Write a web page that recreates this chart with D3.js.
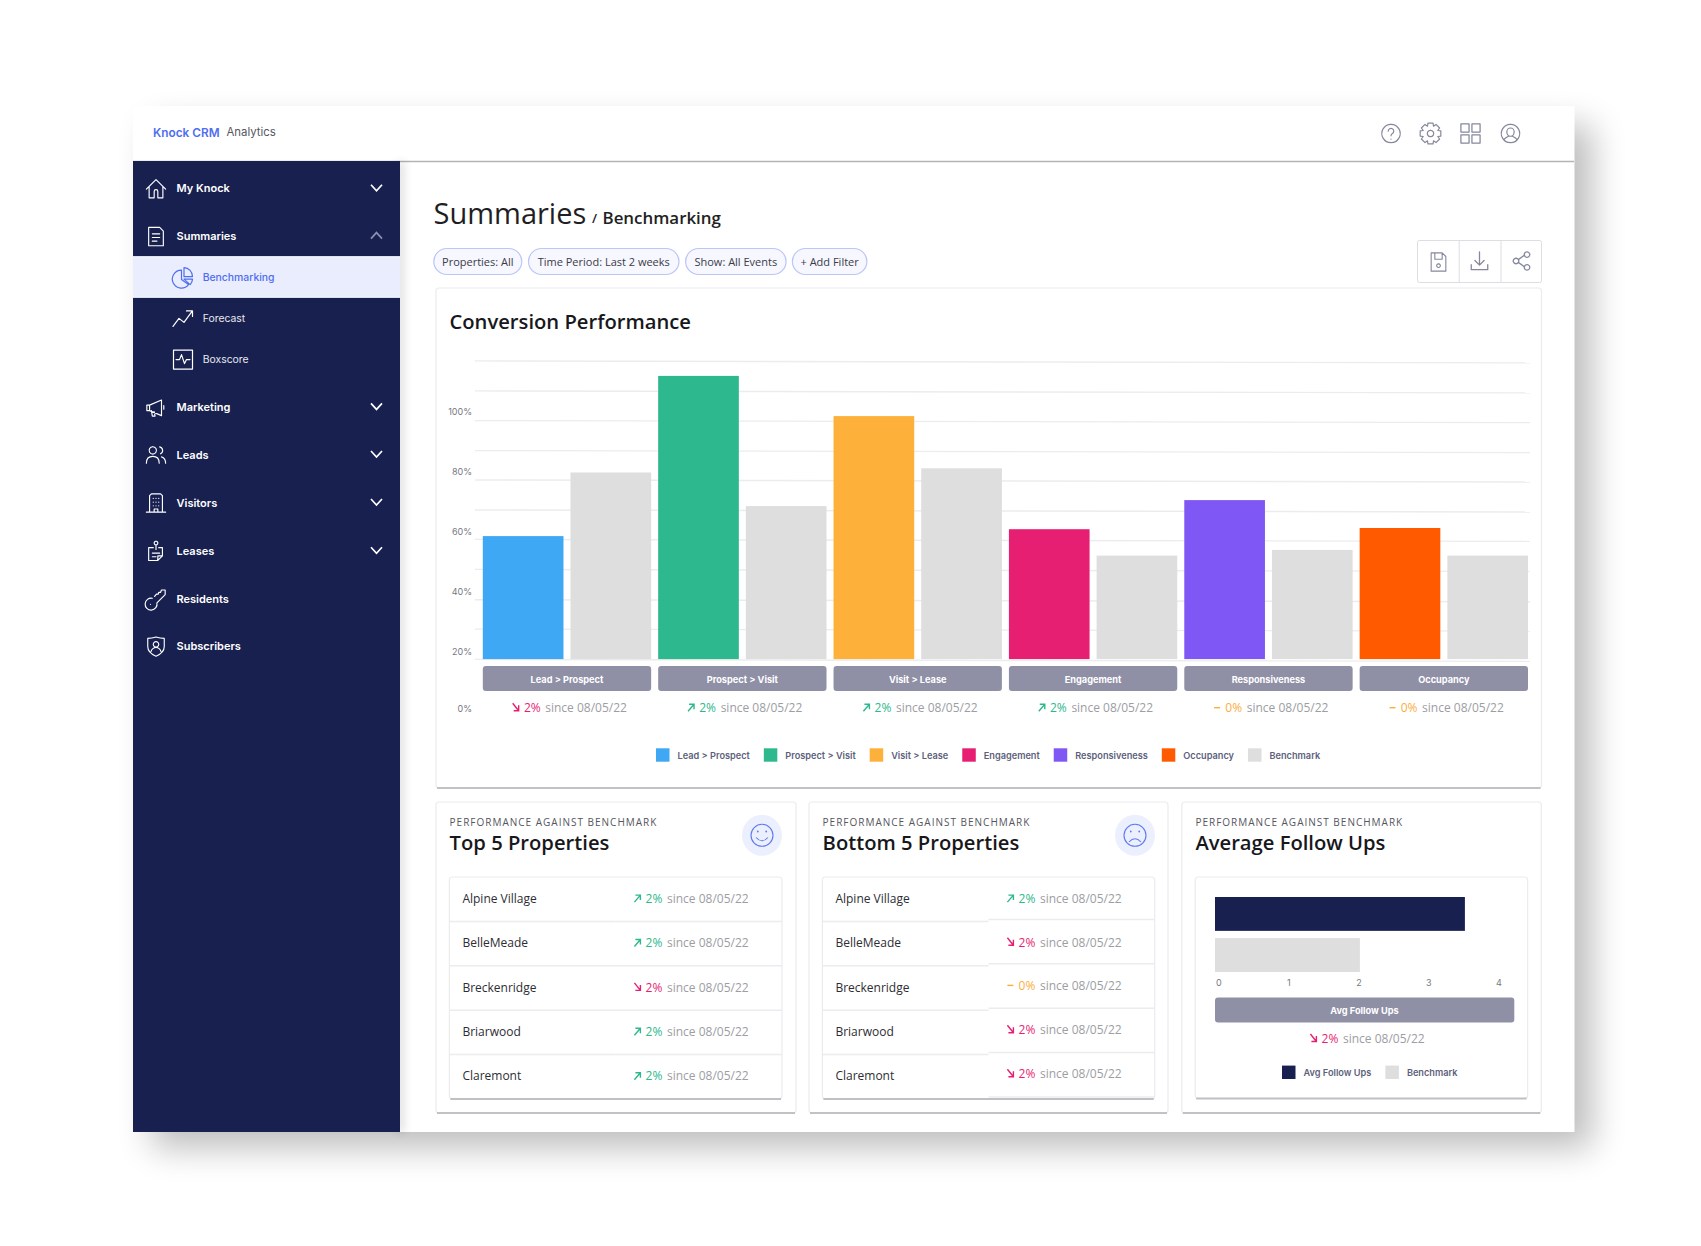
<!DOCTYPE html>
<html><head><meta charset="utf-8">
<script src="https://cdn.jsdelivr.net/npm/d3@7"></script>
<style>html,body{margin:0;padding:0;background:#fff;overflow:hidden}svg{display:block}</style>
</head><body><svg id="c" width="1701" height="1246"></svg>
<script>
// ---------- data ----------
const categories = ["Lead > Prospect","Prospect > Visit","Visit > Lease","Engagement","Responsiveness","Occupancy"];
const seriesValues = [58.3,111.7,98.3,60.6,70.3,61];
const benchmarkValues = [79.5,68.3,80.9,51.8,53.7,51.8];
const seriesColours = ["#3fa8f4","#2db88d","#fdb03a","#e61f72","#7f57f5","#ff5a00"];
const deltaValues = [-2,2,2,2,0,0];
const yTicks = [0,20,40,60,80,100];
const gridValues = [17.2,27.3,37.1,47.2,57.2,67,77,86.8,96.8,106.7,116.7];
const propertyNames = ["Alpine Village","BelleMeade","Breckenridge","Briarwood","Claremont"];
const topDeltas = [2,2,-2,2,2];
const bottomDeltas = [2,-2,0,-2,-2];
const followLabels = ["Avg Follow Ups","Benchmark"];
const followValues = [3.57,2.07];
const followTicks = [0,1,2,3,4];
const followDelta = -2;
const sinceLabel = "since 08/05/22";
const navItems = ["My Knock","Summaries","Marketing","Leads","Visitors","Leases","Residents","Subscribers"];
const subNavItems = ["Benchmarking","Forecast","Boxscore"];
const filterLabels = ["Properties: All","Time Period: Last 2 weeks","Show: All Events","+ Add Filter"];

// ---------- helpers ----------
const INK="#1b1b1f", NAVY="#182050", GREY="#dedede", BTN="#8f90a6", BLUE="#4f6ef0", UP="#2db88d", DOWN="#e61f72", FLAT="#fbae3c";
const INTER="Inter, sans-serif", OPEN="'Open Sans', sans-serif";
const svg=d3.select("#c");
const defs=svg.append("defs");
const sh=defs.append("filter").attr("id","win").attr("x","-20%").attr("y","-20%").attr("width","140%").attr("height","140%");
sh.append("feGaussianBlur").attr("stdDeviation",17);
const sh2=defs.append("filter").attr("id","soft").attr("x","-300%").attr("y","-10%").attr("width","700%").attr("height","120%");
sh2.append("feGaussianBlur").attr("stdDeviation",4);

function T(p,x,y,s,o={}){
  return p.append("text").attr("x",x).attr("y",y).attr("dy","0.35em").text(s)
    .attr("font-family",o.f||OPEN).attr("font-size",o.s||12).attr("font-weight",o.w||400)
    .attr("fill",o.c||INK).attr("text-anchor",o.a||"start").attr("letter-spacing",o.ls||null);
}
function icon(p,cx,cy,d,o={}){
  const k=(o.size||24)/24;
  return p.append("path").attr("d",d).attr("transform",`translate(${cx-12*k},${cy-12*k}) scale(${k})`)
    .attr("fill","none").attr("stroke",o.c||"#fff").attr("stroke-width",o.w||1.5).attr("stroke-linecap","round").attr("stroke-linejoin","round");
}
function delta(p,ax,y,v){
  const col=v>0?UP:v<0?DOWN:FLAT;
  const ay=y-0.5;
  let d;
  if(v>0) d=`M${ax+1} ${ay+4}L${ax+7} ${ay-3}M${ax+2} ${ay-3}H${ax+7}V${ay+2}`;
  else if(v<0) d=`M${ax+1} ${ay-4}L${ax+7} ${ay+3.5}M${ax+7} ${ay-2}V${ay+3.5}H${ax+2}`;
  else d=`M${ax+1} ${ay+0.5}H${ax+7}`;
  p.append("path").attr("d",d).attr("fill","none").attr("stroke",col).attr("stroke-width",1.4);
  T(p,ax+12.2,y,Math.abs(v)+"%",{s:12,w:500,c:col});
  T(p,ax+33.6,y,sinceLabel,{s:12,c:"#9d9da3"});
}

// ---------- window ----------
svg.append("rect").attr("x",152).attr("y",125).attr("width",1440).attr("height",1023).attr("fill","#000").attr("opacity",.26).attr("filter","url(#win)");
svg.append("rect").attr("x",133).attr("y",106).attr("width",1441.5).attr("height",1026).attr("fill","#fff");
// header
T(svg,153,132.5,"Knock CRM",{f:INTER,s:11.8,w:600,c:BLUE});
T(svg,226.5,132.5,"Analytics",{f:INTER,s:11.4,c:"#55565e"});
svg.append("line").attr("x1",133).attr("x2",1574).attr("y1",161.5).attr("y2",161.5).attr("stroke","#b4b4b6").attr("stroke-width",1.6);
const hc="#85879c";
icon(svg,1391,133.5,"M12 2a10 10 0 1 0 .01 0M9 9.5a3 3 0 1 1 4.500 2.600c-1 .6-1.500 1.200-1.500 2.400M12 18v.2",{c:hc,size:22,w:1.3});
const gearPts=d3.range(0,8).flatMap(i=>{
  const a=i*Math.PI/4, w=Math.PI/13, g=Math.PI/8;
  return [[a-g,8.6],[a-w,11.6],[a+w,11.6],[a+g,8.6]].map(([t,r])=>[12+r*Math.cos(t),12+r*Math.sin(t)]);
});
icon(svg,1430.5,133.5,"M"+gearPts.map(p=>p.join(" ")).join("L")+"ZM12 8.500a3.500 3.500 0 1 0 .01 0",{c:hc,size:22,w:1.3});
icon(svg,1470.5,133.5,"M2 2h8.500v8.500H2zM13.500 2H22v8.500h-8.500zM2 13.500h8.500V22H2zM13.500 13.500H22V22h-8.500z",{c:hc,size:23,w:1.3});
icon(svg,1510.5,133.5,"M12 2a10 10 0 1 0 .01 0M12 6a4 4 0 0 0-4 4c0 3 2 5 4 5s4-2 4-5a4 4 0 0 0-4-4M5 18.500c2-2.500 4-3 5-3.500M19 18.500c-2-2.500-4-3-5-3.500",{c:hc,size:22,w:1.3});

// ---------- sidebar ----------
const side=svg.append("g");
side.append("rect").attr("x",397).attr("y",162).attr("width",7).attr("height",970).attr("fill","#000").attr("opacity",.14).attr("filter","url(#soft)");
side.append("rect").attr("x",133).attr("y",161).attr("width",267).attr("height",971).attr("fill",NAVY);
side.append("rect").attr("x",133).attr("y",256.7).attr("width",267).attr("height",40.6).attr("fill","#e9edfd");
side.selectAll("line.hl").data([256.7,297.3]).join("line").attr("class","hl").attr("x1",133).attr("x2",400).attr("y1",d=>d).attr("y2",d=>d).attr("stroke","#fff").attr("stroke-width",1);
const navY=[188.7,236.6,407.4,455,503,551.3,599.2,646.6];
const chevrons=[1,-1,1,1,1,1,0,0];
const navIcons=[
 "M1.500 12.500L12 2l10.500 10.500M4.500 10v12h5.500v-7a2 2 0 0 1 4 0v7h5.500V10",
 "M4 2h12l4 4v16H4zM8 9h8M8 13h8M8 17h5",
 "M2 9.500h3v6H2zM5 9.500L18 4v17L5 15.500M7 15.500l1 6h3l-1-5M20.500 10v4",
 "M8.500 3a4 4 0 1 0 .01 0M1.500 21c0-5 3-7.500 7-7.500s7 2.500 7 7.500M16 3.200a4 4 0 0 1 1 7.500M18 14c2.500.8 4.500 3 4.500 7",
 "M5 4l2-2h10l2 2v18H5zM1.500 22h21M9 7v.1M12 7v.1M15 7v.1M9 11v.1M12 11v.1M15 11v.1M9 15v.1M12 15v.1M15 15v.1M10 22v-3.500h4V22",
 "M12 1a2 2 0 1 0 .01 0M12 5V10M9 8H4v14h10l5-5V8h-4M8 14h8M8 18h4M14 22v-5h5",
 "M8 11a6.500 6.500 0 1 0 5 5L22 7V2h-4l-1 2.500h-2l-.5 2h-2L10.500 9M6 17.500v.1",
 "M3 3c3 0 6-.5 9-1.500 3 1 6 1.500 9 1.500v9c0 5-4 8.500-9 10.500-5-2-9-5.500-9-10.500zM12 6.500a3 3 0 1 0 .01 0M6.500 17.500c1-3 3-4.500 5.500-4.500s4.500 1.500 5.500 4.500"];
navItems.forEach((n,i)=>{
  const y=navY[i];
  icon(side,156,y,navIcons[i],{size:22,w:1.25});
  T(side,176.5,y-0.2,n,{f:INTER,s:11,w:600,c:"#fff"});
  if(chevrons[i]){
    const s=chevrons[i];
    side.append("path").attr("d",`M371 ${y-3*s-1}L376.500 ${y+3*s-1}L382 ${y-3*s-1}`).attr("fill","none")
      .attr("stroke",s>0?"#fff":"#8a90ad").attr("stroke-width",1.7);
  }
});
const subY=[277.6,318.4,359.6];
const subIcons=["M10.500 4.500a9 9 0 1 0 7 14.500L10.500 14zM13 2a9 9 0 0 1 8.500 9H13zM13 13.500h8.500a9 9 0 0 1-2.300 5.500L13 13.500",
 "M2 20l6-8 5 4 8-11M15.500 4.500H21.500V10","M2.500 2.500h19v19h-19zM5 12h3.500l2-5 3 9 2-4H19"];
subNavItems.forEach((n,i)=>{
  icon(side,183,subY[i],subIcons[i],{size:24,w:1.2,c:i?"#fff":BLUE});
  T(side,202.7,subY[i]-0.3,n,{f:INTER,s:10.4,w:i?400:500,c:i?"#e6e7ee":BLUE});
});

// ---------- page title + filters ----------
T(svg,433.5,214,"Summaries",{s:29,c:"#1e1e24"});
T(svg,592,218,"/",{s:13,w:600});
T(svg,602.5,218,"Benchmarking",{s:16.9,w:600,c:"#222"});
const pillX=[433.8,528.5,685.6,792.4], pillW=[88,150.5,100.5,74.500];
filterLabels.forEach((l,i)=>{
  svg.append("rect").attr("x",pillX[i]).attr("y",248.5).attr("width",pillW[i]).attr("height",26).attr("rx",13)
    .attr("fill","#f6f7ff").attr("stroke","#bcc6f7").attr("stroke-width",1.2);
  T(svg,pillX[i]+pillW[i]/2,262,l,{s:11,a:"middle",c:"#3b3c46"});
});
svg.append("rect").attr("x",1417.5).attr("y",240.5).attr("width",124).attr("height",42).attr("rx",2).attr("fill","#fff").attr("stroke","#dddde2");
[1459.2,1501].forEach(x=>svg.append("line").attr("x1",x).attr("x2",x).attr("y1",240.5).attr("y2",282.5).attr("stroke","#dddde2"));
icon(svg,1438.5,262,"M4 2h12l4 4v16H4zM8 2v7h8V2M12 14a2 2 0 1 0 .01 0",{c:hc,size:22,w:1.2});
icon(svg,1479.5,261,"M12 2v14M7 11.500l5 5 5-5M3 16v5.500h18V16",{c:hc,size:22,w:1.4});
icon(svg,1521.5,261,"M18 2a3 3 0 1 0 .01 0M6 9a3 3 0 1 0 .01 0M18 16a3 3 0 1 0 .01 0M8.500 10.500l7-5M8.500 13.500l7 5",{c:hc,size:22,w:1.4});

function card(x,y,w,h,bottom="#c2c2c6"){
  const g=svg.append("g");
  g.append("rect").attr("x",x).attr("y",y).attr("width",w).attr("height",h).attr("rx",3).attr("fill","#fff").attr("stroke","#ececef").attr("stroke-width",1.2);
  g.append("line").attr("x1",x+1).attr("x2",x+w-1).attr("y1",y+h).attr("y2",y+h).attr("stroke",bottom).attr("stroke-width",2);
  return g;
}

// ---------- conversion chart ----------
card(436,288,1105.5,500);
T(svg,449.500,321.5,"Conversion Performance",{s:20.2,w:600,c:"#17171c"});
const chart=svg.append("g");
const BASE=17.3;
const y=d3.scaleLinear().domain([0,120]).range([711,351]);
chart.selectAll("line.g").data(gridValues).join("line").attr("class","g")
  .attr("x1",475).attr("x2",1530).attr("y1",d=>y(d)).attr("y2",d=>y(d)+2).attr("stroke","#ececee").attr("stroke-width",1.4);
const x0=d3.scaleBand().domain(categories).range([482.8,1528]).paddingInner(0.04);
const x1=d3.scaleBand().domain(["value","benchmark"]).range([0,x0.bandwidth()]).paddingInner(0.08);
chart.selectAll("rect.v").data(categories).join("rect").attr("class","v")
  .attr("x",c=>x0(c)+x1("value")).attr("width",x1.bandwidth())
  .attr("y",(c,i)=>y(seriesValues[i])).attr("height",(c,i)=>y(BASE)-y(seriesValues[i]))
  .attr("fill",(c,i)=>seriesColours[i]);
chart.selectAll("rect.b").data(categories).join("rect").attr("class","b")
  .attr("x",c=>x0(c)+x1("benchmark")).attr("width",x1.bandwidth())
  .attr("y",(c,i)=>y(benchmarkValues[i])).attr("height",(c,i)=>y(BASE)-y(benchmarkValues[i]))
  .attr("fill",GREY);
const yAxis=chart.append("g").attr("transform","translate(472,1)")
  .call(d3.axisLeft(y).tickValues(yTicks).tickFormat(d=>d+"%").tickSize(0).tickPadding(0));
yAxis.select(".domain").remove();
yAxis.selectAll("text").attr("font-family",INTER).attr("font-size",9).attr("fill","#77787f").attr("transform",d=>d===0?"translate(0,-3)":null);
chart.selectAll("rect.k").data(categories).join("rect").attr("class","k")
  .attr("x",c=>x0(c)).attr("y",666).attr("width",x0.bandwidth()).attr("height",25).attr("rx",3).attr("fill",BTN);
categories.forEach((c,i)=>{
  T(chart,x0(c)+x0.bandwidth()/2,679.5,c,{f:INTER,s:9.2,w:700,c:"#fff",a:"middle"});
  delta(chart,x0(c)+x0.bandwidth()/2-55.3,707.7,deltaValues[i]);
});
function legend(p,startX,cy,labels,cols){
  let lx=startX;
  labels.forEach((l,i)=>{
    p.append("rect").attr("x",lx).attr("y",cy-6.7).attr("width",13.5).attr("height",13.4).attr("fill",cols[i]);
    const t=T(p,lx+21.5,cy+0.4,l,{f:INTER,s:9.2,w:600,c:"#5d5f7c"});
    lx+=21.5+t.node().getComputedTextLength()+14;
  });
}
legend(chart,656,755,[...categories,"Benchmark"],[...seriesColours,GREY]);

// ---------- bottom cards ----------
const cardX=[436,809,1181.8], cardW=[360,359,359.5];
const cardTitles=["Top 5 Properties","Bottom 5 Properties","Average Follow Ups"];
cardX.forEach((x,i)=>{
  card(x,802,cardW[i],311);
  T(svg,x+13.6,822.3,"PERFORMANCE AGAINST BENCHMARK",{s:10,c:"#55565e",ls:"1px"});
  T(svg,x+13.6,843,cardTitles[i],{s:20.2,w:600,c:"#17171c"});
});
function face(cx,smile){
  svg.append("ellipse").attr("cx",cx).attr("cy",835.3).attr("rx",20).attr("ry",20.500).attr("fill","#eceffd");
  const c="#5f7bf2";
  svg.append("circle").attr("cx",cx).attr("cy",835.3).attr("r",11).attr("fill","none").attr("stroke",c).attr("stroke-width",1.1);
  svg.append("path").attr("d",`M${cx-4.200} 831.500v.1M${cx+4.200} 831.500v.1`).attr("stroke",c).attr("stroke-width",1.8).attr("stroke-linecap","round");
  svg.append("path").attr("d",smile?`M${cx-6} 837.500Q${cx} 844 ${cx+6} 837.500`:`M${cx-6} 842Q${cx} 835.500 ${cx+6} 842`).attr("fill","none").attr("stroke",c).attr("stroke-width",1.1);
}
face(762,true); face(1135,false);

function table(x,w,vals,rightShift){
  const g=card(x,877,w,222,"#bfbfc4");
  const rowY=d3.scaleBand().domain(propertyNames).range([877,1099]);
  const lx=x+w*0.5;
  propertyNames.forEach((n,i)=>{
    const ry=rowY(n), shift=rightShift[i];
    if(i){
      g.append("line").attr("x1",x).attr("x2",lx).attr("y1",ry).attr("y2",ry).attr("stroke","#ececef").attr("stroke-width",1.5);
      g.append("line").attr("x1",lx).attr("x2",x+w).attr("y1",ry-(shift?2:0)).attr("y2",ry-(shift?2:0)).attr("stroke","#ececef").attr("stroke-width",1.5);
    }
    T(g,x+13,ry+rowY.bandwidth()/2-0.6,n,{s:12,c:"#2d2d33"});
    delta(g,x+184,ry+rowY.bandwidth()/2-0.6-shift,vals[i]);
  });
  if(d3.max(rightShift)) g.append("line").attr("x1",lx).attr("x2",x+w).attr("y1",1097).attr("y2",1097).attr("stroke","#ececef").attr("stroke-width",1.5);
}
table(449.4,332.600,topDeltas,[0,0,0,0,0]);
table(822.4,332.300,bottomDeltas,[0,.7,2,2,2.4]);

// follow ups
const f=card(1195.3,877,332.300,221.500,"#bfbfc4");
const fx=d3.scaleLinear().domain([0,4]).range([1215,1495]);
const fy=d3.scaleBand().domain(followLabels).range([897,972]).paddingInner(0.177);
const fCols=[NAVY,GREY];
f.selectAll("rect.h").data(followLabels).join("rect").attr("class","h")
  .attr("x",fx(0)).attr("y",d=>fy(d)).attr("height",fy.bandwidth())
  .attr("width",(d,i)=>fx(followValues[i])-fx(0)).attr("fill",(d,i)=>fCols[i]);
const fAxis=f.append("g").attr("transform","translate(3.400,980)").call(d3.axisBottom(fx).tickValues(followTicks).tickFormat(d3.format("d")).tickSize(0).tickPadding(0));
fAxis.select(".domain").remove();
fAxis.selectAll("text").attr("font-family",INTER).attr("font-size",9).attr("fill","#77787f");
f.append("rect").attr("x",1215).attr("y",997.5).attr("width",299.300).attr("height",25).attr("rx",3).attr("fill",BTN);
T(f,1364.5,1010.5,followLabels[0],{f:INTER,s:9.2,w:700,c:"#fff",a:"middle"});
delta(f,1309.4,1038.5,followDelta);
legend(f,1282,1072.3,followLabels,fCols);
</script></body></html>
